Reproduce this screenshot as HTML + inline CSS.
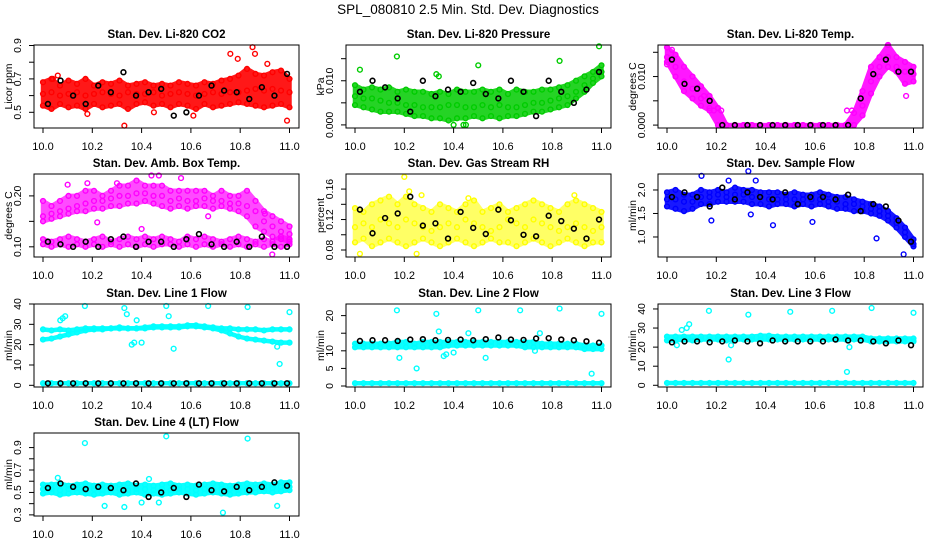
<!DOCTYPE html>
<html><head><meta charset="utf-8"><style>
html,body{margin:0;padding:0;background:#fff;}
svg{display:block;font-family:"Liberation Sans",sans-serif;}
</style></head><body>
<svg id="chart" width="936" height="540" viewBox="0 0 936 540" xmlns="http://www.w3.org/2000/svg">
<rect x="0" y="0" width="936" height="540" fill="#fff"/>
<text x="468" y="14" font-size="13.5" text-anchor="middle">SPL_080810  2.5 Min. Std. Dev. Diagnostics</text>
</svg>
<script>
// ---------- data arrays ----------
const xTicks = [10.0, 10.2, 10.4, 10.6, 10.8, 11.0];
const xTickLabels = ["10.0", "10.2", "10.4", "10.6", "10.8", "11.0"];

const co2Hi = [0.68,0.70,0.66,0.69,0.67,0.70,0.66,0.68,0.67,0.69,0.66,0.67,0.68,0.66,0.67,0.66,0.68,0.67,0.66,0.68,0.67,0.69,0.70,0.72,0.76,0.73,0.72,0.74,0.75,0.70];
const co2Mid = [0.61,0.62,0.60,0.61,0.62,0.60,0.61,0.62,0.61,0.60,0.62,0.61,0.61,0.62,0.60,0.61,0.62,0.61,0.60,0.61,0.62,0.61,0.62,0.62,0.63,0.64,0.63,0.64,0.63,0.62];
const co2Lo = [0.54,0.52,0.55,0.53,0.54,0.52,0.55,0.53,0.54,0.55,0.52,0.55,0.56,0.54,0.55,0.53,0.55,0.54,0.52,0.55,0.53,0.54,0.55,0.56,0.55,0.54,0.53,0.54,0.55,0.53];
const co2OutX = [10.33,10.61,10.76,10.79,10.85,10.86,10.91,10.99,10.18,10.45,10.06,10.04];
const co2OutY = [0.42,0.48,0.85,0.82,0.89,0.85,0.79,0.45,0.49,0.50,0.72,0.70];
const co2Blk = [0.55,0.69,0.60,0.55,0.66,0.62,0.74,0.60,0.62,0.64,0.48,0.50,0.60,0.66,0.63,0.62,0.58,0.65,0.60,0.73];

const presHi = [0.009,0.008,0.0085,0.008,0.0085,0.0075,0.008,0.0075,0.0075,0.007,0.0075,0.007,0.008,0.0075,0.0075,0.008,0.0075,0.008,0.007,0.008,0.0075,0.0075,0.008,0.008,0.0085,0.009,0.010,0.011,0.012,0.0135];
const presMid = [0.0065,0.006,0.006,0.0055,0.005,0.005,0.0045,0.0045,0.004,0.004,0.004,0.0045,0.0045,0.004,0.004,0.0045,0.004,0.0045,0.004,0.004,0.0045,0.005,0.005,0.0055,0.006,0.0065,0.0075,0.009,0.0105,0.012];
const presLo = [0.0045,0.004,0.0035,0.003,0.003,0.003,0.0025,0.002,0.002,0.0015,0.0015,0.001,0.0015,0.0015,0.002,0.0015,0.002,0.0015,0.002,0.002,0.0025,0.003,0.003,0.0035,0.004,0.0045,0.006,0.0075,0.0095,0.011];
const presOutX = [10.17,10.5,10.83,10.99,10.02,10.33,10.34,10.45,10.40,10.44];
const presOutY = [0.0155,0.0135,0.0145,0.0178,0.0125,0.0115,0.011,0.0,0.0,0.0];
const presBlk = [0.0075,0.0100,0.0085,0.0060,0.0030,0.0100,0.0065,0.0080,0.0075,0.0095,0.0070,0.0060,0.0100,0.0075,0.0020,0.0100,0.0075,0.0050,0.0080,0.0120];

const tempHi = [0.016,0.0145,0.012,0.010,0.008,0.006,0.0035,0,0,0,0,0,0,0,0,0,0,0,0,0,0,0,0.0025,0.007,0.012,0.014,0.0165,0.014,0.013,0.012];
const tempMid = [0.014,0.012,0.009,0.0075,0.0055,0.0035,0.0035,0,0,0,0,0,0,0,0,0,0,0,0,0,0,0,0,0.004,0.009,0.012,0.014,0.012,0.011,0.0105];
const tempLo = [0.013,0.010,0.007,0.0055,0.004,0.003,0,0,0,0,0,0,0,0,0,0,0,0,0,0,0,0,0,0.002,0.0065,0.010,0.012,0.011,0.0085,0.009];
const tempOutX = [10.0,10.02,10.15,10.19,10.22,10.73,10.75,10.97];
const tempOutY = [0.0125,0.0155,0.0060,0.0030,0.0030,0.0030,0.0030,0.0060];
const tempBlk = [0.0135,0.0085,0.0075,0.005,0,0,0,0,0,0,0,0,0,0,0,0.0055,0.0105,0.0135,0.011,0.011];

const ambHi = [0.19,0.18,0.19,0.20,0.20,0.21,0.21,0.20,0.21,0.22,0.22,0.23,0.22,0.22,0.22,0.21,0.21,0.21,0.21,0.21,0.20,0.21,0.20,0.20,0.21,0.19,0.17,0.16,0.15,0.14];
const ambMid = [0.16,0.165,0.17,0.175,0.18,0.185,0.19,0.19,0.195,0.20,0.20,0.205,0.205,0.20,0.20,0.19,0.195,0.19,0.19,0.195,0.19,0.19,0.185,0.185,0.18,0.17,0.15,0.14,0.13,0.125];
const ambLo = [0.15,0.155,0.16,0.165,0.17,0.17,0.175,0.175,0.18,0.18,0.185,0.185,0.19,0.185,0.18,0.175,0.18,0.175,0.18,0.18,0.175,0.18,0.175,0.17,0.16,0.14,0.13,0.12,0.115,0.11];
const ambLowA = [0.115,0.11,0.115,0.12,0.115,0.11,0.115,0.12,0.11,0.115,0.12,0.115,0.12,0.115,0.12,0.115,0.11,0.12,0.115,0.12,0.115,0.11,0.115,0.12,0.115,0.11,0.115,0.11,0.12,0.115];
const ambLowB = [0.105,0.10,0.105,0.10,0.105,0.10,0.105,0.10,0.105,0.10,0.105,0.10,0.105,0.10,0.105,0.105,0.10,0.105,0.10,0.105,0.10,0.105,0.10,0.105,0.10,0.105,0.10,0.105,0.10,0.105];
const ambOutX = [10.1,10.18,10.22,10.3,10.4,10.44,10.47,10.56,10.67,10.9,10.93];
const ambOutY = [0.222,0.225,0.148,0.225,0.135,0.24,0.24,0.235,0.16,0.165,0.085];
const ambBlk = [0.11,0.105,0.10,0.11,0.10,0.115,0.12,0.10,0.11,0.11,0.10,0.115,0.125,0.105,0.10,0.11,0.10,0.12,0.10,0.10];

const rhHi = [0.135,0.13,0.14,0.145,0.15,0.14,0.15,0.14,0.135,0.13,0.14,0.135,0.13,0.14,0.145,0.13,0.135,0.14,0.13,0.135,0.14,0.145,0.14,0.135,0.13,0.14,0.145,0.14,0.135,0.13];
const rhMid = [0.11,0.115,0.11,0.12,0.115,0.11,0.12,0.115,0.11,0.105,0.11,0.115,0.11,0.12,0.115,0.11,0.105,0.11,0.12,0.115,0.11,0.12,0.115,0.11,0.105,0.11,0.115,0.11,0.105,0.11];
const rhLo = [0.09,0.095,0.085,0.09,0.095,0.09,0.085,0.09,0.095,0.09,0.085,0.09,0.095,0.09,0.085,0.09,0.095,0.09,0.09,0.085,0.09,0.095,0.09,0.085,0.09,0.095,0.09,0.085,0.09,0.09];
const rhOutX = [10.2,10.22,10.25,10.46,10.89,10.02,10.27];
const rhOutY = [0.176,0.157,0.075,0.148,0.152,0.075,0.152];
const rhBlk = [0.133,0.102,0.122,0.128,0.150,0.112,0.115,0.095,0.130,0.109,0.101,0.133,0.119,0.100,0.098,0.125,0.118,0.108,0.095,0.120];

const flowHi = [1.95,2.0,1.9,1.9,2.0,1.95,2.0,1.95,2.05,2.0,2.0,1.95,1.95,1.95,1.9,1.95,1.9,1.9,1.95,1.9,1.85,1.85,1.8,1.75,1.7,1.65,1.55,1.4,1.2,0.95];
const flowMid = [1.8,1.8,1.75,1.75,1.85,1.85,1.9,1.85,1.9,1.9,1.85,1.85,1.8,1.8,1.8,1.8,1.8,1.8,1.8,1.75,1.75,1.7,1.7,1.65,1.6,1.55,1.45,1.3,1.1,0.85];
const flowLo = [1.65,1.6,1.55,1.6,1.7,1.7,1.75,1.75,1.75,1.75,1.7,1.7,1.65,1.7,1.7,1.65,1.7,1.65,1.7,1.65,1.6,1.6,1.55,1.55,1.5,1.45,1.35,1.2,1.0,0.8];
const flowOutX = [10.14,10.33,10.43,10.18,10.59,10.85,10.96,10.34,10.25,10.36];
const flowOutY = [2.3,2.4,1.25,1.35,1.32,0.97,0.63,1.48,2.2,2.2];
const flowBlk = [1.85,1.95,1.85,1.65,2.05,1.8,1.95,1.85,1.8,1.95,1.7,1.85,1.85,1.8,1.9,1.55,1.7,1.65,1.35,0.9];

const l1Hi = [27.5,27,27.5,27,27.5,28,28,28,28,28.5,28,28,28.5,29,29,29,29,29.5,29.5,29,28.5,28,28,27.5,27.5,27.5,27,27.5,27.5,27.5];
const l1Lo = [22.5,23,24,25,26,27,27.5,27.5,28,28,28,28,28,28.5,28.5,28.5,28.5,29,29,28.5,28,27,25.5,24,23,22.5,22,21.5,21,21];
const l1Zero = [1,1,1,1,1,1,1,1,1,1,1,1,1,1,1,1,1,1,1,1,1,1,1,1,1,1,1,1,1,1];
const l1OutX = [10.07,10.08,10.09,10.17,10.33,10.34,10.36,10.37,10.38,10.40,10.50,10.51,10.53,10.67,10.83,10.96,11.0,10.95];
const l1OutY = [32,33,34,39,38,35,20,21,32,21,39,34,18,39,38.5,10.5,36,19];
const l1Blk = [1,1,1,1,1,1,1,1,1,1,1,1,1,1,1,1,1,1,1,1];

const l2Hi = [12,12,12,12,12,12.5,12.5,12,12.5,12.5,12.5,12.5,12.5,12.5,12.5,12.5,12.5,12.5,12.5,12.5,12.5,12.5,12,12,12,12,12,11.5,11.5,11.5];
const l2Lo = [11,11,11,11,11,11,11,11,11,11,11,11.5,11.5,11.5,11.5,11.5,11.5,11.5,11.5,11.5,11,11,11,11,11,11,11,10.5,10.5,10.5];
const l2Zero = [0.8,0.8,0.8,0.8,0.8,0.8,0.8,0.8,0.8,0.8,0.8,0.8,0.8,0.8,0.8,0.8,0.8,0.8,0.8,0.8,0.8,0.8,0.8,0.8,0.8,0.8,0.8,0.8,0.8,0.8];
const l2OutX = [10.17,10.18,10.25,10.33,10.34,10.36,10.37,10.40,10.46,10.50,10.53,10.67,10.75,10.83,10.96,11.0,10.73];
const l2OutY = [21.5,8,5,20.5,15.5,8.5,9,9.5,15,21.5,8,21.5,15,22,3.5,20.5,10];
const l2Blk = [12.8,13,13,12.8,13.2,13.3,13,13.1,13.2,13,13.3,13.8,13.2,13.1,13.5,13.6,13.2,13,12.7,12.3];

const l3Hi = [25.5,25.5,25.5,25.5,25.5,25.5,25.5,25.5,25.5,25.5,25.5,26,26,25.5,25.5,25.5,25.5,25.5,25.5,25.5,25.5,25.5,25.5,25.5,24.5,24.5,24.5,24.5,24.5,24.5];
const l3Lo = [23.5,23.5,24,23.5,24,24,24,23.5,24,24,24,24,24,24,24,24,24,24,24,24,24,24,24,24,23,23,23,23,23,23];
const l3Zero = [1.2,1.2,1.2,1.2,1.2,1.2,1.2,1.2,1.2,1.2,1.2,1.2,1.2,1.2,1.2,1.2,1.2,1.2,1.2,1.2,1.2,1.2,1.2,1.2,1.2,1.2,1.2,1.2,1.2,1.2];
const l3OutX = [10.06,10.08,10.09,10.17,10.25,10.26,10.33,10.50,10.67,10.73,10.74,10.83,11.0,10.04];
const l3OutY = [29,30,32,39,13.5,21,37,38.5,39,7,20,40.5,38,21];
const l3Blk = [22.5,23,23,22.5,23,23.5,23,22,23.5,23,23,23,23,24,23.5,23.5,23,22,23.5,21];

const l4Hi = [0.57,0.57,0.58,0.56,0.57,0.58,0.56,0.57,0.56,0.57,0.58,0.56,0.57,0.56,0.57,0.58,0.56,0.57,0.56,0.57,0.58,0.57,0.56,0.57,0.58,0.57,0.58,0.57,0.59,0.59];
const l4Mid = [0.53,0.53,0.52,0.53,0.54,0.52,0.53,0.52,0.53,0.53,0.52,0.53,0.53,0.52,0.53,0.52,0.53,0.53,0.52,0.53,0.52,0.53,0.53,0.52,0.53,0.54,0.54,0.54,0.55,0.55];
const l4Lo = [0.49,0.50,0.48,0.49,0.50,0.49,0.48,0.49,0.50,0.48,0.49,0.50,0.48,0.49,0.48,0.49,0.50,0.49,0.48,0.49,0.50,0.49,0.48,0.49,0.50,0.50,0.51,0.50,0.51,0.52];
const l4OutX = [10.17,10.50,10.83,10.25,10.33,10.73,10.40,10.95,10.06,10.43,10.47];
const l4OutY = [0.94,1.0,0.98,0.38,0.37,0.32,0.41,0.38,0.63,0.62,0.41];
const l4Blk = [0.54,0.58,0.55,0.53,0.55,0.54,0.52,0.58,0.46,0.50,0.54,0.46,0.57,0.52,0.51,0.55,0.52,0.55,0.59,0.56];

// ---------- layout ----------
const svg = document.getElementById('chart');
const NS = 'http://www.w3.org/2000/svg';
const colX = [34, 346, 658];
const rowY = [45, 174, 304, 433];
const boxW = 265, boxH = 83;

const panels = [
 {name:'co2', title:'Stan. Dev. Li-820 CO2', ylab:'Licor ppm', c:0, r:0, ymin:0.406, ymax:0.903, ticks:[0.5,0.6,0.7,0.8,0.9], labels:['0.5','','0.7','','0.9'], color:'#ff0000', op:0.9, bands:[co2Hi,co2Mid,co2Lo], areas:[[0,2]], outX:co2OutX, outY:co2OutY, blk:co2Blk},
 {name:'pressure', title:'Stan. Dev. Li-820 Pressure', ylab:'kPa', c:1, r:0, ymin:-0.0007, ymax:0.0181, ticks:[0,0.005,0.010,0.015], labels:['0.000','','0.010',''], color:'#00cc00', op:0.85, bands:[presHi,presMid,presLo], areas:[[0,2]], outX:presOutX, outY:presOutY, blk:presBlk},
 {name:'temp', title:'Stan. Dev. Li-820 Temp.', ylab:'degrees C', c:2, r:0, ymin:-0.0006, ymax:0.0165, ticks:[0,0.005,0.010,0.015], labels:['0.000','','0.010',''], color:'#ff00ff', op:0.9, bands:[tempHi,tempMid,tempLo], areas:[[0,2]], outX:tempOutX, outY:tempOutY, blk:tempBlk},
 {name:'amb-box-temp', title:'Stan. Dev. Amb. Box Temp.', ylab:'degrees C', c:0, r:1, ymin:0.080, ymax:0.243, ticks:[0.10,0.15,0.20], labels:['0.10','','0.20'], color:'#ff00ff', op:0.7, bands:[ambHi,ambMid,ambLo,ambLowA,ambLowB], areas:[[0,2],[3,4]], outX:ambOutX, outY:ambOutY, blk:ambBlk},
 {name:'gas-rh', title:'Stan. Dev. Gas Stream RH', ylab:'percent', c:1, r:1, ymin:0.0708, ymax:0.1798, ticks:[0.08,0.10,0.12,0.14,0.16], labels:['0.08','','0.12','','0.16'], color:'#ffff00', op:0.6, bands:[rhHi,rhMid,rhLo], areas:[[0,2]], outX:rhOutX, outY:rhOutY, blk:rhBlk},
 {name:'sample-flow', title:'Stan. Dev. Sample Flow', ylab:'ml/min', c:2, r:1, ymin:0.574, ymax:2.34, ticks:[1.0,1.5,2.0], labels:['1.0','1.5','2.0'], color:'#0000ff', op:0.9, bands:[flowHi,flowMid,flowLo], areas:[[0,2]], outX:flowOutX, outY:flowOutY, blk:flowBlk},
 {name:'line1-flow', title:'Stan. Dev. Line 1 Flow', ylab:'ml/min', c:0, r:2, ymin:-0.83, ymax:40.0, ticks:[0,10,20,30,40], labels:['0','10','20','30','40'], color:'#00ffff', op:0.95, bands:[l1Hi,l1Lo,l1Zero], areas:[[0,0],[1,1],[2,2]], outX:l1OutX, outY:l1OutY, blk:l1Blk},
 {name:'line2-flow', title:'Stan. Dev. Line 2 Flow', ylab:'ml/min', c:1, r:2, ymin:-0.28, ymax:23.3, ticks:[0,5,10,15,20], labels:['0','5','10','','20'], color:'#00ffff', op:0.95, bands:[l2Hi,l2Lo,l2Zero], areas:[[0,1],[2,2]], outX:l2OutX, outY:l2OutY, blk:l2Blk},
 {name:'line3-flow', title:'Stan. Dev. Line 3 Flow', ylab:'ml/min', c:2, r:2, ymin:-0.9, ymax:42.6, ticks:[0,10,20,30,40], labels:['0','10','20','30','40'], color:'#00ffff', op:0.95, bands:[l3Hi,l3Lo,l3Zero], areas:[[0,1],[2,2]], outX:l3OutX, outY:l3OutY, blk:l3Blk},
 {name:'line4-flow', title:'Stan. Dev. Line 4 (LT) Flow', ylab:'ml/min', c:0, r:3, ymin:0.29, ymax:1.03, ticks:[0.3,0.4,0.5,0.6,0.7,0.8,0.9], labels:['0.3','','0.5','','0.7','','0.9'], color:'#00ffff', op:0.95, bands:[l4Hi,l4Mid,l4Lo], areas:[[0,2]], outX:l4OutX, outY:l4OutY, blk:l4Blk}
];

function mk(tag, attrs, parent){
  const e = document.createElementNS(NS, tag);
  for (const k in attrs) e.setAttribute(k, attrs[k]);
  parent.appendChild(e);
  return e;
}

panels.forEach(p => {
  const bx = colX[p.c], by = rowY[p.r];
  const xs = v => bx + 9 + (v - 10) * 246.5;
  const ys = v => by + boxH - (v - p.ymin) / (p.ymax - p.ymin) * boxH;
  const bxv = (arr, i) => xs(10 + i / (arr.length - 1));
  const g = mk('g', {}, svg);
  
  

  const t = mk('text', {x: bx + boxW/2, y: by - 7, 'font-size': 11.5, 'font-weight': 'bold', 'text-anchor': 'middle'}, g);
  t.textContent = p.title;
  
  

  // dense cloud areas between band arrays
  p.areas.forEach(([a, b]) => {
    const top = p.bands[a], bot = p.bands[b];
    const ptsTop = top.map((v, i) => bxv(top, i).toFixed(1) + ',' + ys(v).toFixed(1));
    const ptsBot = bot.map((v, i) => bxv(bot, i).toFixed(1) + ',' + ys(v).toFixed(1)).reverse();
    const poly = mk('polygon', {points: ptsTop.concat(ptsBot).join(' '), fill: p.color, stroke: p.color, 'stroke-width': 4.5, 'stroke-linejoin': 'round', opacity: p.op}, g);
    
    
  });

  // points
  const pts = mk('g', {fill: 'none', 'stroke-width': 1.4}, g);
  
  
  p.bands.forEach(arr => {
    arr.forEach((v, i) => {
      const c = mk('circle', {cx: bxv(arr, i), cy: ys(v), r: 2.4, stroke: p.color}, pts);
      
      
    });
  });
  p.outX.forEach((xv, i) => {
    const c = mk('circle', {cx: xs(xv), cy: ys(p.outY[i]), r: 2.4, stroke: p.color}, pts);
    
    
  });
  p.blk.forEach((v, i) => {
    const c = mk('circle', {cx: xs(10.02 + 0.97 * i / (p.blk.length - 1)), cy: ys(v), r: 2.4, stroke: '#000', 'stroke-width': 1.6}, pts);
    
    
  });

  // box
  const b = mk('rect', {x: bx, y: by, width: boxW, height: boxH, fill: 'none', stroke: '#000', 'stroke-width': 1}, g);
  
  

  // x axis
  xTicks.forEach((xv, i) => {
    const X = xs(xv);
    mk('line', {x1: X, y1: by + boxH, x2: X, y2: by + boxH + 5, stroke: '#000'}, g);
    const tl = mk('text', {x: X, y: by + boxH + 22, 'font-size': 11, 'text-anchor': 'middle'}, g);
    tl.textContent = xTickLabels[i];
    
    
  });
  // y axis
  p.ticks.forEach((yv, i) => {
    const Y = ys(yv);
    mk('line', {x1: bx, y1: Y, x2: bx - 5, y2: Y, stroke: '#000'}, g);
    if (p.labels[i]) {
      const tl = mk('text', {x: bx - 13, y: Y, 'font-size': 10.5, 'text-anchor': 'middle', transform: `rotate(-90 ${bx-13} ${Y})`}, g);
      tl.textContent = p.labels[i];
      
      
    }
  });
  const yt = mk('text', {x: bx - 22, y: by + boxH/2, 'font-size': 10.5, 'text-anchor': 'middle', transform: `rotate(-90 ${bx-22} ${by+boxH/2})`}, g);
  yt.textContent = p.ylab;
  
  
});
</script>
</body></html>
